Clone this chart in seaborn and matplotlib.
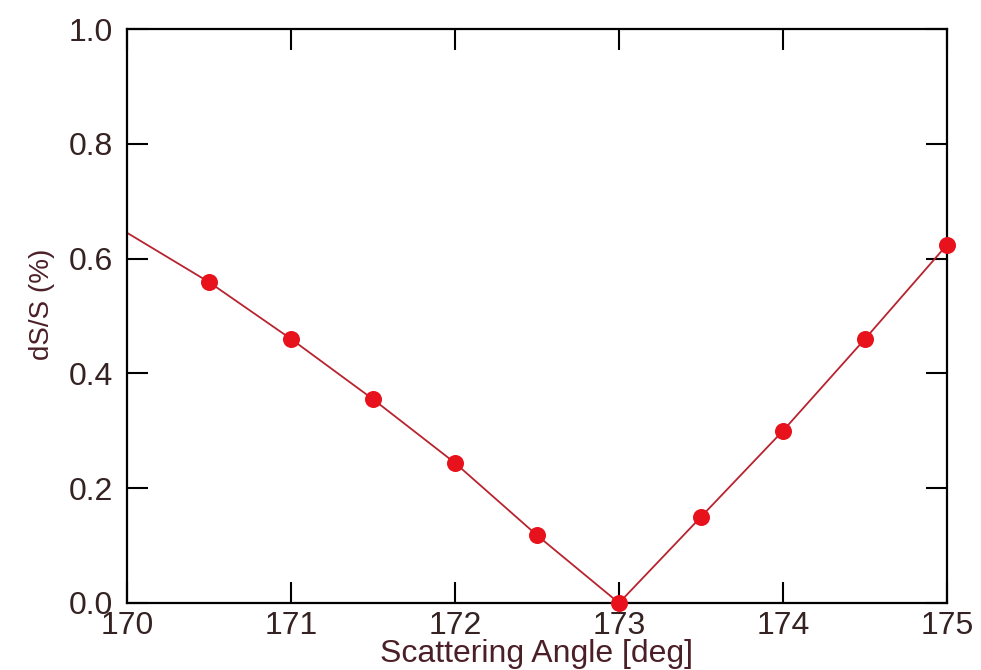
import matplotlib
matplotlib.use("Agg")
import matplotlib.pyplot as plt
import seaborn as sns
import pandas as pd

# Data
line_angle = [170.0, 170.5, 171.0, 171.5, 172.0, 172.5, 173.0, 173.5, 174.0, 174.5, 175.0]
line_ds = [0.645, 0.559, 0.460, 0.355, 0.244, 0.118, 0.0, 0.150, 0.300, 0.460, 0.624]
marker_angle = [170.5, 171.0, 171.5, 172.0, 172.5, 173.0, 173.5, 174.0, 174.5, 175.0]
marker_ds = [0.559, 0.460, 0.355, 0.244, 0.118, 0.0, 0.150, 0.300, 0.460, 0.624]
x_ticks = [170, 171, 172, 173, 174, 175]
y_ticks = [0.0, 0.2, 0.4, 0.6, 0.8, 1.0]
y_tick_labels = ["0.0", "0.2", "0.4", "0.6", "0.8", "1.0"]

sns.set_style("white")
plt.rcParams['font.family'] = ['Liberation Sans', 'DejaVu Sans']

line_df = pd.DataFrame({"angle": line_angle, "ds": line_ds})
mark_df = pd.DataFrame({"angle": marker_angle, "ds": marker_ds})

fig = plt.figure(figsize=(9.81, 6.70), dpi=100)
ax = fig.add_axes([0.1295, 0.1, 0.8358, 0.8567])

sns.lineplot(data=line_df, x="angle", y="ds", ax=ax, color="#b8232f", linewidth=1.3)
sns.scatterplot(data=mark_df, x="angle", y="ds", ax=ax, color="#e8121c", s=150,
                edgecolor="#e8121c", linewidth=0, zorder=5, clip_on=False)

ax.set_xlim(170, 175)
ax.set_ylim(0, 1.0)
ax.set_xticks(x_ticks)
ax.set_xticklabels([str(t) for t in x_ticks])
ax.set_yticks(y_ticks)
ax.set_yticklabels(y_tick_labels)

tick_color = "#352222"
label_color = "#4b1f27"
ax.tick_params(axis="both", direction="in", length=15, width=1.5, colors="black",
               labelcolor=tick_color, labelsize=23,
               top=True, right=True, bottom=True, left=True)
ax.tick_params(axis="x", pad=6)
ax.tick_params(axis="y", pad=10)

for sp in ax.spines.values():
    sp.set_visible(True)
    sp.set_linewidth(1.6)
    sp.set_color("black")

ax.set_xlabel("Scattering Angle [deg]", fontsize=23, color=label_color)
ax.set_ylabel("dS/S (%)", fontsize=20, color=label_color)
ax.xaxis.set_label_coords(0.5, -0.062)
ax.yaxis.set_label_coords(-0.088, 0.52)

fig.savefig("out.png", dpi=100)
